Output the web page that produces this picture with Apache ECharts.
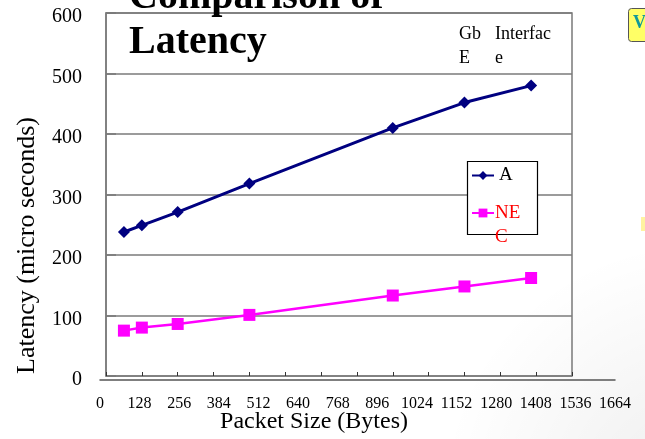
<!DOCTYPE html>
<html>
<head>
<meta charset="utf-8">
<script src="https://cdn.jsdelivr.net/npm/echarts@6/dist/echarts.min.js"></script>
<style>
  html, body { margin: 0; padding: 0; background: #ffffff; }
  #chart { width: 645px; height: 439px; }
</style>
</head>
<body>
<div id="chart"></div>
<script>
// Packet sizes (bytes) and measured latency (microseconds)
const packetSizes = [64, 128, 256, 512, 1024, 1280, 1518];
const latencyA = [238, 249, 271, 318, 410, 452, 480];
const latencyNEC = [75, 80, 86, 101, 133, 148, 162];

// Axis ranges and steps
const xMin = 0, xMax = 1664, xStep = 128;
const yMin = 0, yMax = 600, yStep = 100;

const seriesNames = ['A', 'NEC'];
const titleLines = ['Comparison of', 'Latency'];
const headerLeft = ['Gb', 'E'];
const headerRight = ['Interfac', 'e'];

const SERIF = 'Liberation Serif, Times New Roman, serif';
const GRID_GRAY = '#7a7a7a';

const chart = echarts.init(document.getElementById('chart'), null, { renderer: 'canvas' });

const pairs = (xs, ys) => xs.map((x, i) => [x, ys[i]]);

chart.setOption({
  backgroundColor: '#ffffff',
  animation: false,
  title: {
    text: titleLines.join('\n'),
    left: 129,
    top: -25,
    padding: 0,
    textStyle: { fontFamily: SERIF, fontWeight: 'bold', fontSize: 40, lineHeight: 45, color: '#000' }
  },
  grid: [
    { left: 106, right: 73, top: 13, bottom: 59, show: true, borderColor: GRID_GRAY, borderWidth: 1.5, backgroundColor: 'transparent' },
    { left: 100, right: 30, top: 13, bottom: 59 }
  ],
  xAxis: [
    {
      type: 'value', gridIndex: 0, min: xMin, max: xMax, interval: xStep,
      axisLine: { show: false },
      axisTick: { show: true, inside: true, length: 4, lineStyle: { color: '#333', width: 1 } },
      axisLabel: { show: false },
      splitLine: { show: false },
      name: 'Packet Size (Bytes)',
      nameLocation: 'middle',
      nameGap: 34,
      nameTextStyle: { fontFamily: SERIF, fontSize: 24, color: '#000', padding: [0, 50, 0, 0] }
    },
    {
      type: 'value', gridIndex: 1, min: xMin, max: xMax, interval: xStep,
      axisLine: { show: true, lineStyle: { color: '#555', width: 1.5 } },
      axisTick: { show: false },
      axisLabel: { show: true, margin: 16, fontFamily: SERIF, fontSize: 16, color: '#000', formatter: v => String(v) },
      splitLine: { show: false }
    }
  ],
  yAxis: [
    {
      type: 'value', gridIndex: 0, min: yMin, max: yMax, interval: yStep,
      offset: 9,
      axisLine: { show: true, lineStyle: { color: GRID_GRAY, width: 1.5 } },
      axisTick: { show: true, inside: true, length: 10, lineStyle: { color: GRID_GRAY, width: 1.5 } },
      axisLabel: { margin: 15, fontFamily: SERIF, fontSize: 20, color: '#000', verticalAlign: 'top', lineHeight: 8 },
      splitLine: { show: true, lineStyle: { color: GRID_GRAY, width: 1.5 } },
      name: 'Latency (micro seconds)',
      nameLocation: 'middle',
      nameRotate: 90,
      nameGap: 57,
      nameTextStyle: { fontFamily: SERIF, fontSize: 26, color: '#000', padding: [0, 102, 0, 0] }
    },
    {
      type: 'value', gridIndex: 1, min: yMin, max: yMax,
      show: false
    }
  ],
  legend: {
    orient: 'vertical',
    left: 471,
    top: 166,
    itemWidth: 22,
    itemHeight: 11,
    itemGap: -8,
    padding: 0,
    data: [
      { name: seriesNames[0], textStyle: { color: '#000' } },
      { name: seriesNames[1], textStyle: { color: '#ff0000', lineHeight: 24, padding: [0, 0, 0, -4] } }
    ],
    // the NEC label wraps below its swatch; a leading blank line keeps "NE" level with it
    formatter: n => (n === 'NEC' ? '\nNE\nC' : n),
    textStyle: { fontFamily: SERIF, fontSize: 19, color: '#000' }
  },
  graphic: [
    // soft shading of the page background, lower right
    { type: 'circle', z: -10, silent: true, shape: { cx: 700, cy: 500, r: 260 },
      style: { fill: new echarts.graphic.RadialGradient(0.5, 0.5, 0.5, [
        { offset: 0, color: 'rgba(0,0,0,0.07)' },
        { offset: 1, color: 'rgba(0,0,0,0)' }
      ]) } },
    // legend frame
    { type: 'rect', z: 3, shape: { x: 467.5, y: 161.5, width: 70, height: 73 },
      style: { fill: '#ffffff', stroke: '#000', lineWidth: 1.2 } },
    // header text
    { type: 'text', z: 5, left: 459, top: 23,
      style: { text: headerLeft.join('\n'), font: '18px ' + SERIF, lineHeight: 23.5, fill: '#000' } },
    { type: 'text', z: 5, left: 495, top: 23,
      style: { text: headerRight.join('\n'), font: '18px ' + SERIF, lineHeight: 23.5, fill: '#000' } },
    // note box at the right edge
    { type: 'rect', z: 5, shape: { x: 628.5, y: 8.5, width: 30, height: 33, r: 3 },
      style: { fill: '#ffff66', stroke: '#555', lineWidth: 1 } },
    { type: 'text', z: 6, left: 633, top: 14,
      style: { text: 'V', font: 'bold 18px ' + SERIF, fill: '#119999' } },
    { type: 'rect', z: 5, shape: { x: 641, y: 217, width: 4, height: 14 },
      style: { fill: '#fff3a0' } }
  ],
  series: [
    {
      name: seriesNames[0], type: 'line', xAxisIndex: 0, yAxisIndex: 0,
      data: pairs(packetSizes, latencyA),
      symbol: 'diamond', symbolSize: 12,
      itemStyle: { color: '#000080' },
      lineStyle: { color: '#000080', width: 3 },
      z: 3
    },
    {
      name: seriesNames[1], type: 'line', xAxisIndex: 0, yAxisIndex: 0,
      data: pairs(packetSizes, latencyNEC),
      symbol: 'rect', symbolSize: 12,
      itemStyle: { color: '#ff00ff' },
      lineStyle: { color: '#ff00ff', width: 2.5 },
      z: 3
    }
  ]
});
</script>
</body>
</html>
